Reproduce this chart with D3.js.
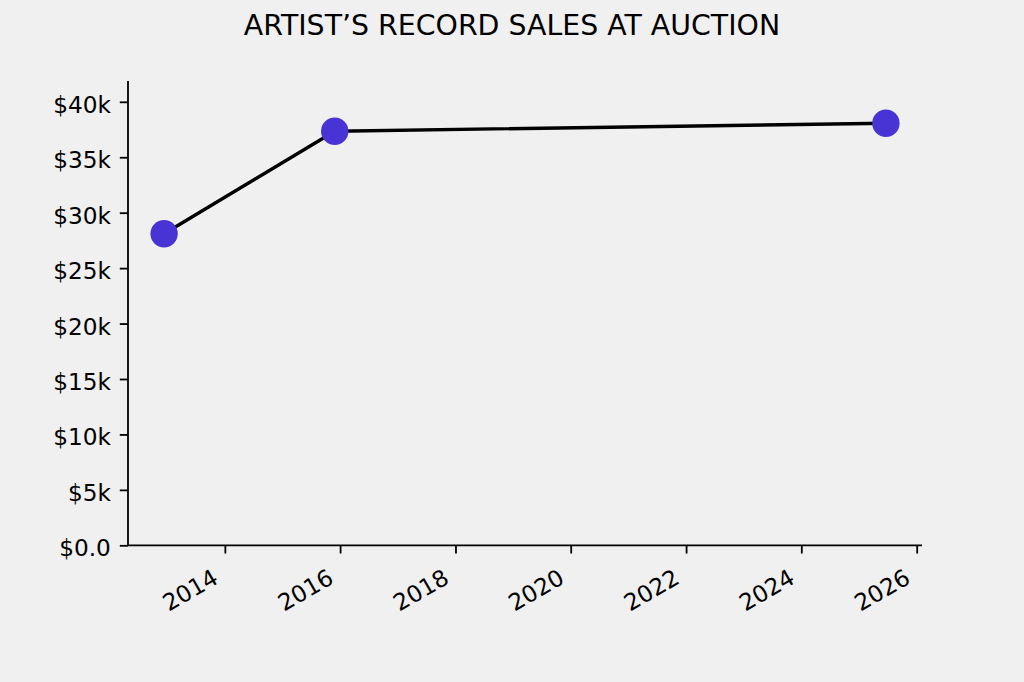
<!DOCTYPE html>
<html>
<head>
<meta charset="utf-8">
<script src="https://cdn.jsdelivr.net/npm/d3@7"></script>
<style>
  html, body { margin: 0; padding: 0; background: #f0f0f0; }
  svg { display: block; }
  text { font-family: "DejaVu Sans", sans-serif; fill: #000; }
</style>
</head>
<body>
<svg id="chart" width="1024" height="682"></svg>
<script>
const title = "ARTIST\u2019S RECORD SALES AT AUCTION";
const saleDates = ["2012-12-12", "2015-11-28", "2025-06-20"];
const salePrices = [28100, 37350, 38070];
const yTickValues = [0, 5000, 10000, 15000, 20000, 25000, 30000, 35000, 40000];
const yTickLabels = ["$0.0", "$5k", "$10k", "$15k", "$20k", "$25k", "$30k", "$35k", "$40k"];
const xTickYears = [2014, 2016, 2018, 2020, 2022, 2024, 2026];

(function () {
const W = 1024, H = 682;
const mLeft = 128, mRight = 922, mTop = 81, mBottom = 545.3;

const svg = d3.select("#chart");
svg.append("rect").attr("width", W).attr("height", H).attr("fill", "#f0f0f0");

const parse = d3.utcParse("%Y-%m-%d");
const dates = saleDates.map(parse);
const t0 = d3.min(dates), t1 = d3.max(dates);
const span = t1 - t0;
const x = d3.scaleUtc()
  .domain([new Date(+t0 - 0.05 * span), new Date(+t1 + 0.05 * span)])
  .range([mLeft, mRight]);
const y = d3.scaleLinear()
  .domain([0, d3.max(salePrices) * 1.1])
  .range([mBottom, mTop]);

const tickLen = 8.2, fs = 23.2;

// Y axis
const yAxis = d3.axisLeft(y)
  .tickValues(yTickValues)
  .tickFormat((d, i) => yTickLabels[i])
  .tickSize(tickLen).tickPadding(9);
const gy = svg.append("g").attr("transform", `translate(${mLeft},0)`).call(yAxis);
gy.select(".domain").attr("stroke", "#000").attr("stroke-width", 1.8)
  .attr("d", `M0,${mBottom}V${mTop}`);
gy.selectAll(".tick line").attr("stroke", "#000").attr("stroke-width", 1.8);
gy.selectAll(".tick text").attr("font-size", fs).attr("font-family", "DejaVu Sans")
  .attr("fill", "#000").attr("dy", "0.45em");

// X axis
const xTicks = xTickYears.map(yr => new Date(Date.UTC(yr, 0, 1)));
const xAxis = d3.axisBottom(x)
  .tickValues(xTicks)
  .tickFormat(d3.utcFormat("%Y"))
  .tickSize(tickLen).tickPadding(8);
const gx = svg.append("g").attr("transform", `translate(0,${mBottom})`).call(xAxis);
gx.select(".domain").attr("stroke", "#000").attr("stroke-width", 1.8)
  .attr("d", `M${mLeft},0H${mRight}`);
gx.selectAll(".tick line").attr("stroke", "#000").attr("stroke-width", 1.8);
gx.selectAll(".tick text")
  .attr("font-size", fs).attr("font-family", "DejaVu Sans").attr("fill", "#000")
  .attr("text-anchor", "end")
  .attr("dy", null)
  .attr("y", null)
  .attr("transform", `translate(-5.5,37) rotate(-30)`);

// Line
const pts = dates.map((d, i) => [x(d), y(salePrices[i])]);
svg.append("path")
  .attr("d", d3.line()(pts))
  .attr("fill", "none").attr("stroke", "#000").attr("stroke-width", 3.4)
  .attr("stroke-linejoin", "round");

svg.selectAll("circle.pt").data(pts).join("circle")
  .attr("class", "pt")
  .attr("cx", d => d[0]).attr("cy", d => d[1]).attr("r", 13.7)
  .attr("fill", "#4834d4");

// Title
svg.append("text")
  .attr("x", 512).attr("y", 35)
  .attr("text-anchor", "middle")
  .attr("font-size", 28.4).attr("font-family", "DejaVu Sans")
  .text(title);
})();
</script>
</body>
</html>
